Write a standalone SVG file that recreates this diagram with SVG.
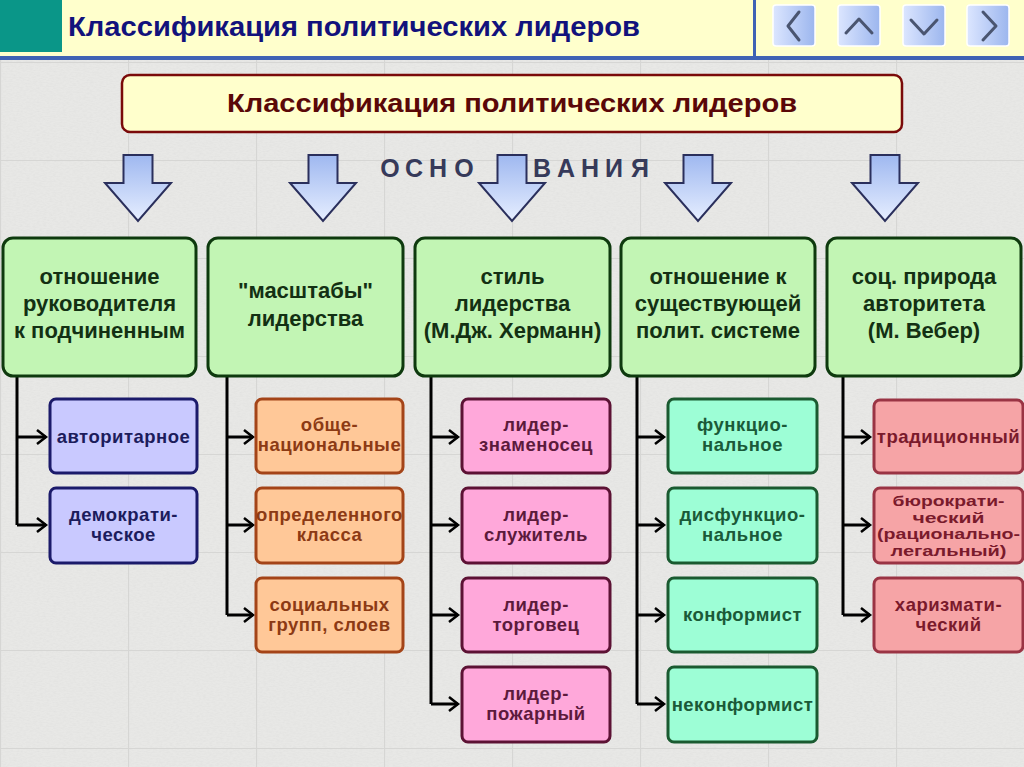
<svg xmlns="http://www.w3.org/2000/svg" width="1024" height="767" viewBox="0 0 1024 767">
<defs>
<style>
.t{font-family:"Liberation Sans",Arial,sans-serif;font-weight:bold;text-anchor:middle}
.g rect{fill:#c2f5b4;stroke:#0e3a0e;stroke-width:3}
.g text{fill:#133013;font-size:22px}
.sb text{font-size:18.5px;letter-spacing:0.5px}
.b rect{fill:#c9c9ff;stroke:#1b1a6a;stroke-width:3}
.b text{fill:#1c1c5c}
.o rect{fill:#ffc898;stroke:#a44418;stroke-width:3}
.o text{fill:#8c3a14}
.p rect{fill:#ffa8da;stroke:#5c1234;stroke-width:3}
.p text{fill:#5c1a3c}
.m rect{fill:#9dfed6;stroke:#1a5a30;stroke-width:3}
.m text{fill:#1a5a38}
.r rect{fill:#f6a4a6;stroke:#9a3444;stroke-width:3}
.r text{fill:#7a1a2c}
.r text.s{font-size:15px;letter-spacing:0}
.da{fill:url(#ag);stroke:#2a2f5c;stroke-width:2;stroke-linejoin:miter}
.btn{fill:url(#bg);stroke:#ffffff;stroke-width:1.5}
.chev{fill:none;stroke:#4a5570;stroke-width:3;stroke-linecap:round;stroke-linejoin:round}
.cn path{fill:none;stroke:#000;stroke-width:3}
</style>
<linearGradient id="ag" x1="0" y1="0" x2="0" y2="1">
<stop offset="0" stop-color="#9fb8f0"/>
<stop offset="1" stop-color="#e6eeff"/>
</linearGradient>
<linearGradient id="bg" x1="0" y1="0" x2="1" y2="0">
<stop offset="0" stop-color="#dce6ff"/>
<stop offset="1" stop-color="#9cb6ee"/>
</linearGradient>
<pattern id="bricks" width="128" height="98" patternUnits="userSpaceOnUse" x="0" y="62">
<path d="M0 0.5H128M0.5 0V98" stroke="#d6d6d4" stroke-width="1.2" fill="none"/>
</pattern>
<filter id="noise" x="0" y="0" width="100%" height="100%">
<feTurbulence type="fractalNoise" baseFrequency="0.3 0.8" numOctaves="2" seed="3"/>
<feColorMatrix type="matrix" values="0 0 0 0 0.6  0 0 0 0 0.6  0 0 0 0 0.6  0 0 0 0.7 -0.25"/>
</filter>
<marker id="ah" markerUnits="userSpaceOnUse" markerWidth="14" markerHeight="18" refX="11" refY="9" orient="auto" viewBox="0 0 14 18">
<path d="M2 2L11 9L2 16" fill="none" stroke="#000" stroke-width="2.5"/>
</marker>
</defs>

<g id="background">
<rect x="0" y="0" width="1024" height="767" fill="#e8e8e6"/>
<rect x="0" y="60" width="1024" height="707" filter="url(#noise)" opacity="0.5"/>
<rect x="0" y="60" width="1024" height="707" fill="url(#bricks)"/>
</g>

<g id="header">
<rect x="0" y="0" width="1024" height="57" fill="#ffffcc"/>
<rect x="0" y="0" width="62" height="52" fill="#0a9688"/>
<rect x="0" y="56" width="1024" height="4" fill="#3f62b4"/>
<rect x="753" y="0" width="3" height="57" fill="#3f62b4"/>
<text class="t" x="68" y="36" style="text-anchor:start;font-size:28px;fill:#12127c" textLength="572" lengthAdjust="spacingAndGlyphs">Классификация политических лидеров</text>
</g>

<g id="nav">
<rect class="btn" x="773" y="5" width="42" height="41" rx="3"/>
<path class="chev" d="M799 12L788 26L799 40"/>
<rect class="btn" x="838" y="5" width="42" height="41" rx="3"/>
<path class="chev" d="M846 33L859 19L872 33"/>
<rect class="btn" x="903" y="5" width="42" height="41" rx="3"/>
<path class="chev" d="M911 20L924 34L937 20"/>
<rect class="btn" x="967" y="5" width="42" height="41" rx="3"/>
<path class="chev" d="M983 12L996 26L983 40"/>
</g>

<g id="title">
<rect x="122" y="75" width="780" height="57" rx="8" fill="#ffffcc" stroke="#7a0a0a" stroke-width="2.5"/>
<text class="t" x="512" y="112" style="font-size:25px;fill:#5a0808" textLength="570" lengthAdjust="spacingAndGlyphs">Классификация политических лидеров</text>
</g>

<g id="osnovaniya">
<text class="t" x="390 414 438 464 542 566 590 614 640" y="177" style="font-size:25px;fill:#363a5a">ОСНОВАНИЯ</text>
</g>

<g id="down-arrows">
<path class="da" d="M123.5 155H152.5V183H171L138 221L105 183H123.5Z"/>
<path class="da" d="M308.5 155H337.5V183H356L323 221L290 183H308.5Z"/>
<path class="da" d="M497.5 155H526.5V183H545L512 221L479 183H497.5Z"/>
<path class="da" d="M683.5 155H712.5V183H731L698 221L665 183H683.5Z"/>
<path class="da" d="M870.5 155H899.5V183H918L885 221L852 183H870.5Z"/>
</g>

<g id="connectors" class="cn">
<path d="M17 376V525"/>
<path d="M17 437H46" marker-end="url(#ah)"/>
<path d="M17 525H46" marker-end="url(#ah)"/>
<path d="M227 376V615"/>
<path d="M227 437H253" marker-end="url(#ah)"/>
<path d="M227 525H253" marker-end="url(#ah)"/>
<path d="M227 615H253" marker-end="url(#ah)"/>
<path d="M431 376V704"/>
<path d="M431 437H458" marker-end="url(#ah)"/>
<path d="M431 525H458" marker-end="url(#ah)"/>
<path d="M431 615H458" marker-end="url(#ah)"/>
<path d="M431 704H458" marker-end="url(#ah)"/>
<path d="M637 376V704"/>
<path d="M637 437H664" marker-end="url(#ah)"/>
<path d="M637 525H664" marker-end="url(#ah)"/>
<path d="M637 615H664" marker-end="url(#ah)"/>
<path d="M637 704H664" marker-end="url(#ah)"/>
<path d="M843 376V615"/>
<path d="M843 437H870" marker-end="url(#ah)"/>
<path d="M843 525H870" marker-end="url(#ah)"/>
<path d="M843 615H870" marker-end="url(#ah)"/>
</g>

<g id="cat1" class="g t">
<rect x="3" y="238" width="193" height="138" rx="10"/>
<text x="99.5" y="284">отношение</text>
<text x="99.5" y="311">руководителя</text>
<text x="99.5" y="338">к подчиненным</text>
</g>
<g id="cat2" class="g t">
<rect x="208" y="238" width="195" height="138" rx="10"/>
<text x="305.5" y="298">"масштабы"</text>
<text x="305.5" y="326">лидерства</text>
</g>
<g id="cat3" class="g t">
<rect x="415" y="238" width="195" height="138" rx="10"/>
<text x="512.5" y="284">стиль</text>
<text x="512.5" y="311">лидерства</text>
<text x="512.5" y="338">(М.Дж. Херманн)</text>
</g>
<g id="cat4" class="g t">
<rect x="621" y="238" width="194" height="138" rx="10"/>
<text x="718" y="284">отношение к</text>
<text x="718" y="311">существующей</text>
<text x="718" y="338">полит. системе</text>
</g>
<g id="cat5" class="g t">
<rect x="827" y="238" width="194" height="138" rx="10"/>
<text x="924" y="284">соц. природа</text>
<text x="924" y="311">авторитета</text>
<text x="924" y="338">(М. Вебер)</text>
</g>

<g id="c1-1" class="sb b t"><rect x="50" y="399" width="147" height="74" rx="6"/><text x="123.5" y="443">авторитарное</text></g>
<g id="c1-2" class="sb b t"><rect x="50" y="488" width="147" height="75" rx="6"/><text x="123.5" y="521">демократи-</text><text x="123.5" y="540.5">ческое</text></g>

<g id="c2-1" class="sb o t"><rect x="256" y="399" width="147" height="74" rx="6"/><text x="329.5" y="431">обще-</text><text x="329.5" y="450.5">национальные</text></g>
<g id="c2-2" class="sb o t"><rect x="256" y="488" width="147" height="75" rx="6"/><text x="329.5" y="521">определенного</text><text x="329.5" y="540.5">класса</text></g>
<g id="c2-3" class="sb o t"><rect x="256" y="578" width="147" height="74" rx="6"/><text x="329.5" y="611">социальных</text><text x="329.5" y="630.5">групп, слоев</text></g>

<g id="c3-1" class="sb p t"><rect x="462" y="399" width="148" height="74" rx="6"/><text x="536" y="431">лидер-</text><text x="536" y="450.5">знаменосец</text></g>
<g id="c3-2" class="sb p t"><rect x="462" y="488" width="148" height="75" rx="6"/><text x="536" y="521">лидер-</text><text x="536" y="540.5">служитель</text></g>
<g id="c3-3" class="sb p t"><rect x="462" y="578" width="148" height="74" rx="6"/><text x="536" y="611">лидер-</text><text x="536" y="630.5">торговец</text></g>
<g id="c3-4" class="sb p t"><rect x="462" y="667" width="148" height="75" rx="6"/><text x="536" y="700">лидер-</text><text x="536" y="719.5">пожарный</text></g>

<g id="c4-1" class="sb m t"><rect x="668" y="399" width="149" height="74" rx="6"/><text x="742.5" y="431">функцио-</text><text x="742.5" y="450.5">нальное</text></g>
<g id="c4-2" class="sb m t"><rect x="668" y="488" width="149" height="75" rx="6"/><text x="742.5" y="521">дисфункцио-</text><text x="742.5" y="540.5">нальное</text></g>
<g id="c4-3" class="sb m t"><rect x="668" y="578" width="149" height="74" rx="6"/><text x="742.5" y="621">конформист</text></g>
<g id="c4-4" class="sb m t"><rect x="668" y="667" width="149" height="75" rx="6"/><text x="742.5" y="711">неконформист</text></g>

<g id="c5-1" class="sb r t"><rect x="874" y="400" width="149" height="73" rx="6"/><text x="948.5" y="443">традиционный</text></g>
<g id="c5-2" class="sb r t"><rect x="874" y="488" width="149" height="75" rx="6"/>
<text class="s" x="948.5" y="506" textLength="112" lengthAdjust="spacingAndGlyphs">бюрократи-</text>
<text class="s" x="948.5" y="522.5" textLength="72" lengthAdjust="spacingAndGlyphs">ческий</text>
<text class="s" x="948.5" y="539" textLength="143" lengthAdjust="spacingAndGlyphs">(рационально-</text>
<text class="s" x="948.5" y="555.5" textLength="116" lengthAdjust="spacingAndGlyphs">легальный)</text></g>
<g id="c5-3" class="sb r t"><rect x="874" y="578" width="149" height="74" rx="6"/><text x="948.5" y="611">харизмати-</text><text x="948.5" y="630.5">ческий</text></g>
</svg>
